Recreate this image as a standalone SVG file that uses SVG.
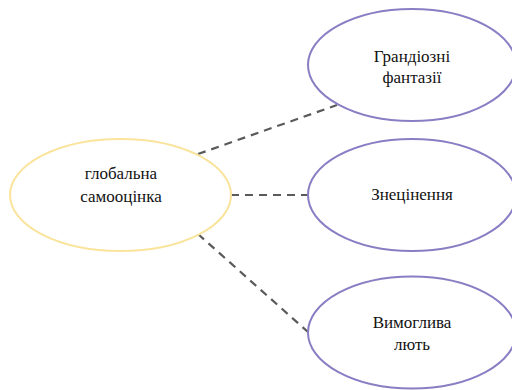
<svg xmlns="http://www.w3.org/2000/svg" width="512" height="390" viewBox="0 0 512 390">
<style>
.y{fill:#fff;stroke:#fae39b;stroke-width:2}
.p{fill:#fff;stroke:#8b7dc4;stroke-width:2}
.t{font-family:'Liberation Serif',serif;font-size:17px;fill:#111;text-anchor:middle}
.c{stroke:#5a5a5a;stroke-width:2.2;stroke-dasharray:8 6;fill:none}
</style>
<rect width="512" height="390" fill="#fff"/>
<g id="connectors">
<line class="c" x1="198" y1="154" x2="337" y2="105"/>
<line class="c" x1="231" y1="195" x2="309" y2="195"/>
<line class="c" x1="198" y1="234" x2="308" y2="332"/>
</g>
<g id="n-global">
<ellipse class="y" cx="120.5" cy="195" rx="110.5" ry="56"/>
<text class="t" x="121" y="179">глобальна</text>
<text class="t" x="121" y="202">самооцінка</text>
</g>
<g id="n-grand">
<ellipse class="p" cx="412" cy="65" rx="104" ry="56"/>
<text class="t" x="412" y="62">Грандіозні</text>
<text class="t" x="412" y="83">фантазії</text>
</g>
<g id="n-znets">
<ellipse class="p" cx="412" cy="195" rx="104" ry="56"/>
<text class="t" x="412" y="200">Знецінення</text>
</g>
<g id="n-vymog">
<ellipse class="p" cx="412" cy="332.5" rx="104" ry="56"/>
<text class="t" x="412" y="328">Вимоглива</text>
<text class="t" x="412" y="350">лють</text>
</g>
</svg>
